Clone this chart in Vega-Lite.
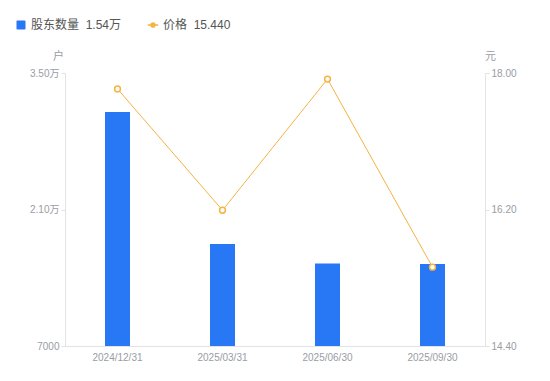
{
  "$schema": "https://vega.github.io/schema/vega-lite/v6.json",
  "width": 420,
  "height": 273,
  "autosize": {"type": "none"},
  "padding": {"left": 65, "top": 73, "right": 65, "bottom": 35},
  "config": {
    "font": "Liberation Sans, Noto Sans CJK SC",
    "view": {"stroke": null},
    "axis": {
      "labelColor": "#9a9ca5",
      "labelFontSize": 10,
      "domainColor": "#e3e3e6",
      "tickColor": "#e3e3e6",
      "titleColor": "#9a9ca5",
      "titleFontSize": 11,
      "titleFontWeight": "normal",
      "grid": false
    }
  },
  "data": {
    "values": [
      {"date": "2024/12/31", "holders": 31000, "price": 17.79},
      {"date": "2025/03/31", "holders": 17450, "price": 16.19},
      {"date": "2025/06/30", "holders": 15450, "price": 17.92},
      {"date": "2025/09/30", "holders": 15400, "price": 15.44}
    ]
  },
  "encoding": {
    "x": {
      "field": "date",
      "type": "ordinal",
      "scale": {"paddingInner": 0, "paddingOuter": 0},
      "axis": {"title": null, "labelAngle": 0, "ticks": false, "labelPadding": 6, "domainColor": "#e3e3e6"}
    }
  },
  "layer": [
    {
      "mark": {"type": "bar", "size": 25, "color": "#2878f6", "clip": true},
      "encoding": {
        "y": {
          "field": "holders",
          "type": "quantitative",
          "scale": {"domain": [7000, 35000], "nice": false, "zero": false},
          "axis": {
            "values": [7000, 21000, 35000],
            "labelExpr": "datum.value >= 10000 ? format(datum.value / 10000, '.2f') + '万' : format(datum.value, 'd')",
            "title": "户",
            "titleAngle": 0,
            "titleX": -7,
            "titleY": -17,
            "titleAlign": "center",
            "titleBaseline": "middle",
            "tickSize": 4,
            "labelPadding": 2
          }
        },
        "color": {
          "datum": "股东数量",
          "type": "nominal",
          "scale": {"domain": ["股东数量", "价格"], "range": ["#2878f6", "#f5b342"]},
          "legend": {
            "title": null,
            "orient": "none",
            "legendX": -50,
            "legendY": -54,
            "direction": "horizontal",
            "labelFontSize": 12,
            "labelColor": "#555",
            "columnPadding": 22,
            "symbolOffset": 0,
            "labelExpr": "datum.label === '股东数量' ? '股东数量\u00a0\u00a01.54万' : '价格\u00a0\u00a015.440'",
            "encode": {
              "symbols": {
                "update": {
                  "shape": {"signal": "datum.value === '价格' ? 'M-1,0L-0.45,0M0.45,0L1,0M0.4,0A0.4,0.4,0,1,1,-0.4,0A0.4,0.4,0,1,1,0.4,0' : 'M-1,-0.8Q-1,-1,-0.8,-1L0.8,-1Q1,-1,1,-0.8L1,0.8Q1,1,0.8,1L-0.8,1Q-1,1,-1,0.8Z'"},
                  "size": {"signal": "datum.value === '价格' ? 110 : 81"},
                  "fill": {"signal": "datum.value === '价格' ? 'transparent' : '#2878f6'"},
                  "stroke": {"signal": "datum.value === '价格' ? '#f5b342' : '#2878f6'"},
                  "strokeWidth": {"signal": "datum.value === '价格' ? 1.5 : 0"}
                }
              }
            }
          }
        }
      }
    },
    {
      "mark": {"type": "line", "color": "#f7b84a", "strokeWidth": 1, "point": {"filled": true, "fill": "white", "stroke": "#f5b342", "strokeWidth": 1.5, "size": 34}},
      "encoding": {
        "y": {
          "field": "price",
          "type": "quantitative",
          "scale": {"domain": [14.4, 18.0], "nice": false, "zero": false},
          "axis": {
            "values": [14.4, 16.2, 18.0],
            "format": ".2f",
            "orient": "right",
            "title": "元",
            "titleAngle": 0,
            "titleX": 5,
            "titleY": -17,
            "titleAlign": "center",
            "titleBaseline": "middle",
            "tickSize": 4,
            "labelPadding": 2
          }
        },
        "color": {"datum": "价格", "type": "nominal"}
      }
    }
  ],
  "resolve": {"scale": {"y": "independent"}}
}
